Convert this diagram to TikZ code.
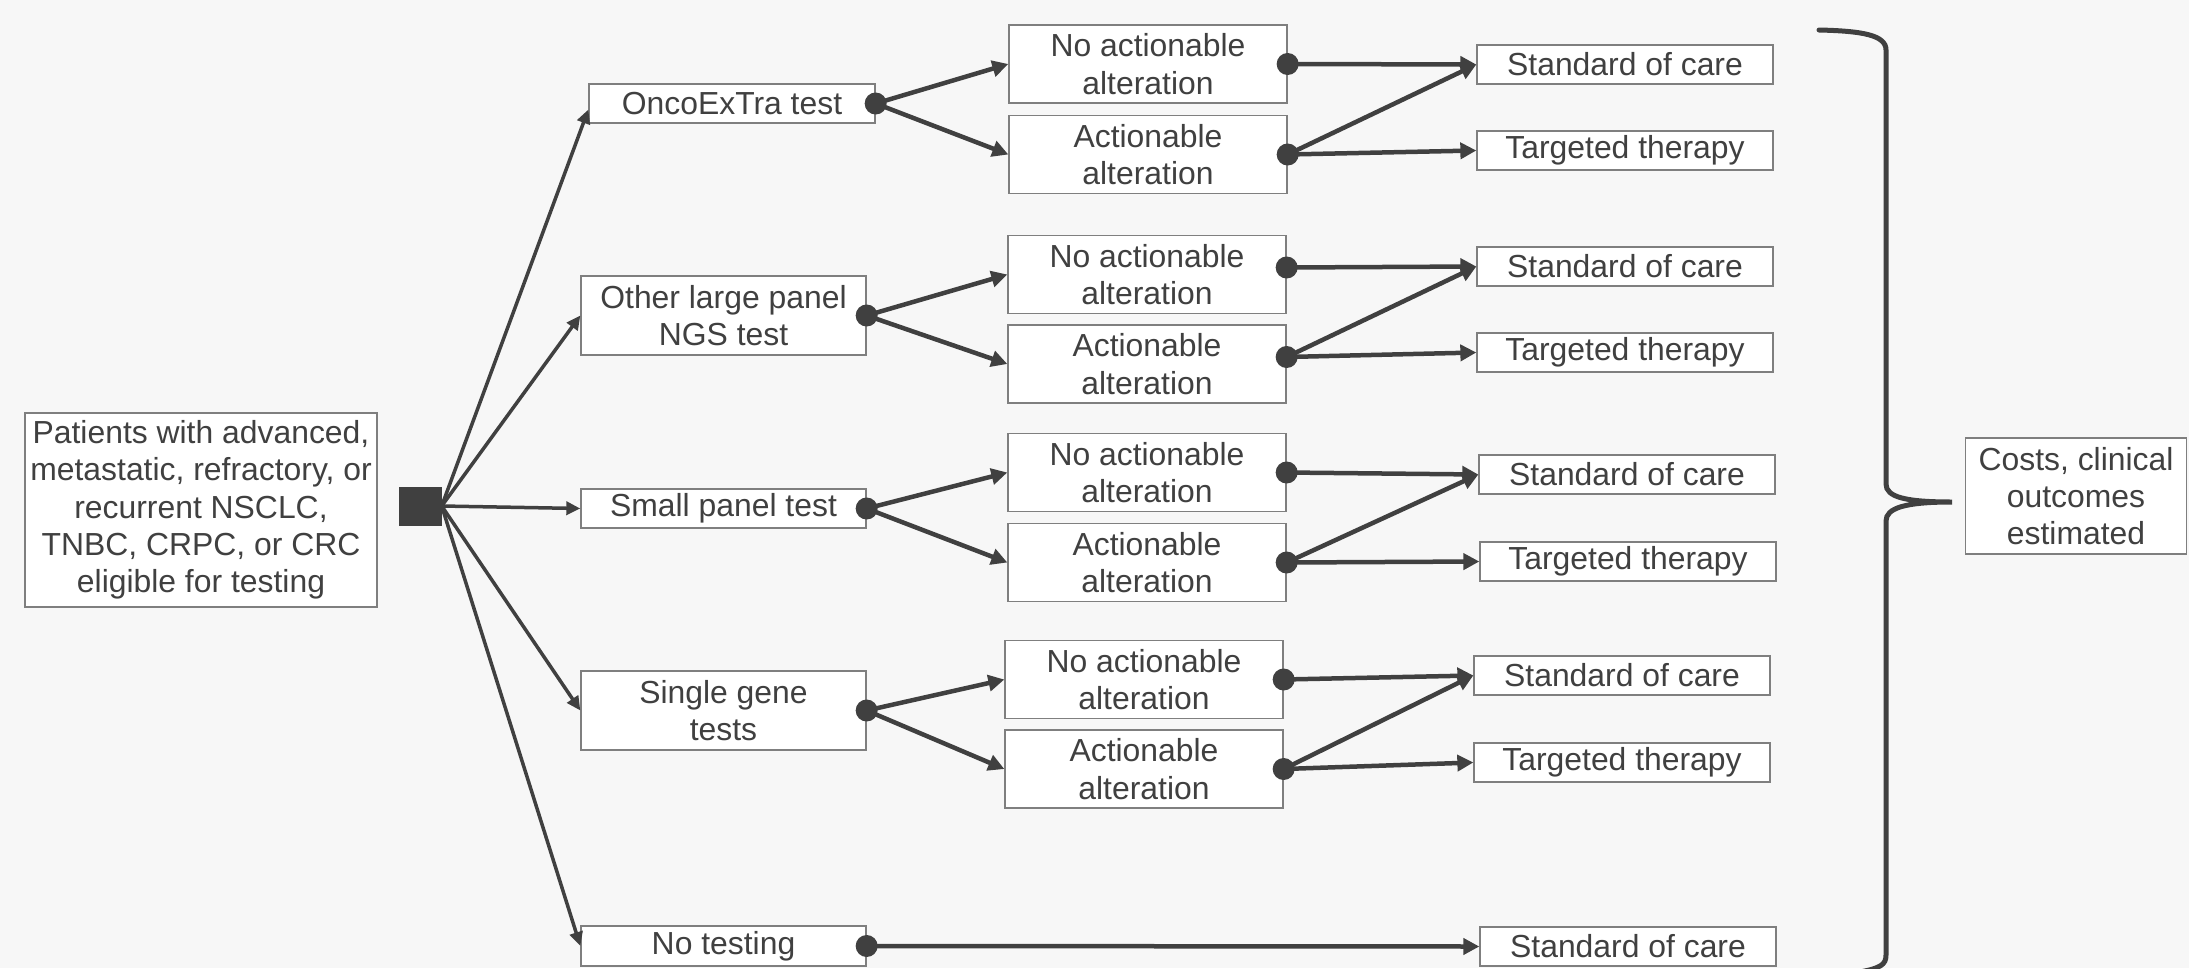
\documentclass[tikz,border=0pt]{standalone}
\usepackage{fontspec}
\setmainfont{Liberation Sans}
\usetikzlibrary{arrows.meta}
\definecolor{bgc}{HTML}{F7F7F7}
\definecolor{ink}{HTML}{404040}
\definecolor{edgegray}{HTML}{7F7F7F}
\begin{document}
\begin{tikzpicture}[x=1bp,y=-1bp,
  box/.style={draw=edgegray,fill=white,line width=1.3bp,inner sep=0pt,align=center,text=ink,font=\fontsize{32}{37.5}\selectfont},
  l2/.style={box,minimum width=278bp,minimum height=78bp},
  l3/.style={box,minimum width=296bp,minimum height=39bp},
  tb/.style={box,minimum width=285bp},
  conn/.style={draw=ink,line width=4.5bp,-{Triangle[length=16bp,width=16bp]}},
  thinconn/.style={draw=ink,line width=3.5bp,-{Triangle[length=14bp,width=13bp]}},
  dotc/.style={fill=ink},
  brace/.style={draw=ink,line width=5bp,line cap=round}]
\fill[bgc] (0,0) rectangle (2189,968);
\useasboundingbox (0,0) rectangle (2189,968);

\node[box,minimum width=352bp,minimum height=194bp] (pat) at (201,510) {Patients with advanced,\\metastatic, refractory, or\\recurrent NSCLC,\\TNBC, CRPC, or CRC\\eligible for testing};
\node[fill=ink,minimum width=43bp,minimum height=39bp,inner sep=0pt] (sq) at (420,506) {};

\node[box,minimum width=286bp,minimum height=39bp] (t1) at (732,103.5) {OncoExTra test};
\node[tb,minimum height=79bp] (t2) at (723.5,315.5) {Other large panel\\NGS test};
\node[tb,minimum height=39bp] (t3) at (723.5,508.5) {Small panel test};
\node[tb,minimum height=79bp] (t4) at (723.5,710.5) {Single gene\\tests};
\node[tb,minimum height=40bp] (t5) at (723.5,946) {No testing};

\node[l2] (n1) at (1148,64) {No actionable\\alteration};
\node[l2] (a1) at (1148,154.5) {Actionable\\alteration};
\node[l2] (n2) at (1147,274.5) {No actionable\\alteration};
\node[l2] (a2) at (1147,364) {Actionable\\alteration};
\node[l2] (n3) at (1147,472.5) {No actionable\\alteration};
\node[l2] (a3) at (1147,562.5) {Actionable\\alteration};
\node[l2] (n4) at (1144,679.5) {No actionable\\alteration};
\node[l2] (a4) at (1144,769) {Actionable\\alteration};

\node[l3] (s1) at (1625,64.5) {Standard of care};
\node[l3] (r1) at (1625,150.5) {Targeted therapy};
\node[l3] (s2) at (1625,266.5) {Standard of care};
\node[l3] (r2) at (1625,352.5) {Targeted therapy};
\node[l3] (s3) at (1627,474.5) {Standard of care};
\node[l3] (r3) at (1628,561.5) {Targeted therapy};
\node[l3] (s4) at (1622,675.5) {Standard of care};
\node[l3] (r4) at (1622,762.5) {Targeted therapy};
\node[l3] (s5) at (1628,946.5) {Standard of care};

\node[box,minimum width=221bp,minimum height=116bp] (cost) at (2076,496) {Costs, clinical\\outcomes\\estimated};

% dot positions
\foreach \d in {t1,t2,t3,t4,t5,n1,a1,n3,a3,n4,a4}
  \coordinate (\d d) at (\d.east);
\coordinate (n2d) at ([yshift=7bp]n2.east);
\coordinate (a2d) at ([yshift=7bp]a2.east);

% root to tests
\draw[thinconn] (sq.east) -- ([yshift=-6bp]t1.west);
\foreach \t in {t2,t3,t4,t5}
  \draw[thinconn] (sq.east) -- (\t.west);

% tests to level 2
\foreach \t/\n/\a in {t1/n1/a1,t2/n2/a2,t3/n3/a3,t4/n4/a4}{
  \draw[conn] (\t d) -- (\n.west);
  \draw[conn] (\t d) -- (\a.west);
}
\draw[conn] (t5d) -- (s5.west);

% level 2 to outcomes
\foreach \n/\a/\s/\r in {n1/a1/s1/r1,n2/a2/s2/r2,n3/a3/s3/r3,n4/a4/s4/r4}{
  \draw[conn] (\n d) -- (\s.west);
  \draw[conn] (\a d) -- (\s.west);
  \draw[conn] (\a d) -- (\r.west);
}

% dots
\foreach \d in {t1,t2,t3,t4,t5,n1,a1,n2,a2,n3,a3,n4,a4}
  \fill[dotc] (\d d) circle (11bp);

% brace
\draw[brace] (1819,30) .. controls (1862,31) and (1886,35) .. (1886,50)
  -- (1886,484) .. controls (1886,497) and (1905,502) .. (1952,502)
  .. controls (1905,502) and (1886,508) .. (1886,521)
  -- (1886,955) .. controls (1886,965) and (1880,968) .. (1860,972);
\end{tikzpicture}
\end{document}
